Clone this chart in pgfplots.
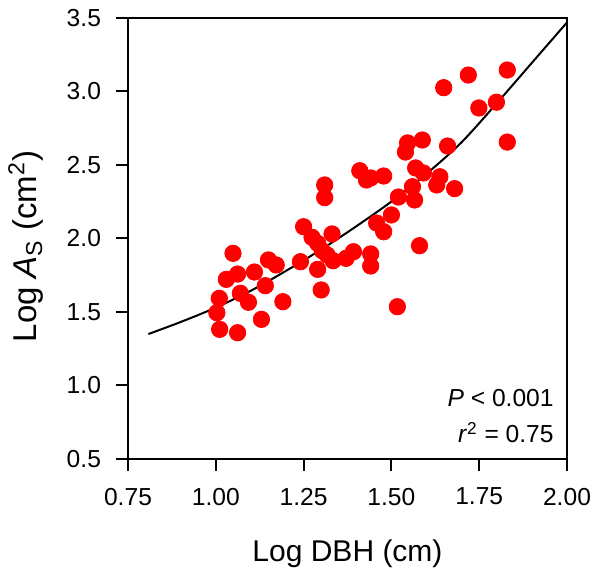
\documentclass[border=0pt]{standalone}
\usepackage{fontspec}
\setmainfont{Liberation Sans}
\usepackage{pgfplots}
\pgfplotsset{compat=1.18}
\usetikzlibrary{calc}

\pgfplotstableread{
x y
1.003 1.495
1.010 1.593
1.011 1.382
1.030 1.722
1.049 1.899
1.062 1.758
1.062 1.359
1.070 1.627
1.093 1.566
1.110 1.772
1.130 1.450
1.141 1.679
1.150 1.854
1.172 1.820
1.191 1.570
1.241 1.842
1.250 2.080
1.274 2.008
1.290 1.967
1.290 1.790
1.300 1.650
1.303 1.917
1.310 2.364
1.310 2.278
1.317 1.888
1.331 2.031
1.334 1.849
1.371 1.865
1.392 1.910
1.410 2.461
1.429 2.398
1.441 2.412
1.441 1.895
1.441 1.813
1.458 2.105
1.478 2.425
1.478 2.046
1.500 2.160
1.517 1.536
1.520 2.282
1.540 2.588
1.546 2.650
1.560 2.352
1.566 2.262
1.569 2.480
1.580 1.951
1.588 2.670
1.591 2.446
1.629 2.364
1.638 2.420
1.649 3.026
1.660 2.629
1.680 2.339
1.719 3.112
1.749 2.888
1.799 2.927
1.830 3.146
1.830 2.656
}\trees

% fitted line
\pgfplotstableread{
x y
0.808 1.350
0.90 1.432
1.00 1.530
1.10 1.645
1.20 1.780
1.30 1.925
1.40 2.083
1.50 2.251
1.60 2.440
1.70 2.655
1.80 2.920
1.90 3.195
2.00 3.470
}\fit

\begin{document}
\begin{tikzpicture}
\begin{axis}[
    scale only axis,
    width=219.5pt, height=220.5pt,
    xmin=0.75, xmax=2, ymin=0.5, ymax=3.5,
    xtick={0.75,1,1.25,1.5,1.75,2},
    ytick={0.5,1,1.5,2,2.5,3,3.5},
    xticklabel style={/pgf/number format/.cd,fixed,fixed zerofill,precision=2},
    yticklabel style={/pgf/number format/.cd,fixed,fixed zerofill,precision=1},
    /pgf/number format/assume math mode=true,
    tick label style={font=\fontsize{12.3}{14}\selectfont},
    xticklabel shift=5pt, yticklabel shift=4pt,
    axis line style={line width=1.2pt},
    tick style={line width=1pt, black},
    tick align=outside, major tick length=6pt,
    xtick pos=left, ytick pos=left,
    xlabel={Log DBH (cm)},
    ylabel={Log \textit{A}\textsubscript{S} (cm\textsuperscript{2})},
    every axis x label/.style={at={(axis description cs:0.5,0)}, anchor=base, yshift=-51.5pt, font=\fontsize{15}{18}\selectfont},
    every axis y label/.style={at={(axis description cs:0,0.5)}, xshift=-45.5pt, yshift=-4pt, rotate=90, anchor=base, font=\fontsize{16.5}{19}\selectfont},
    clip=false,
]
\addplot[black, line width=1pt, smooth] table[x=x, y=y] {\fit};
\addplot[only marks, mark=*, mark size=4.1pt, color=red, fill=red] table[x=x, y=y] {\trees};
\node[anchor=base east, font=\fontsize{12.3}{14}\selectfont] at (axis cs:1.982,0.856) {\textit{P} < 0.001};
\node[anchor=base east, font=\fontsize{12.3}{14}\selectfont] at (axis cs:1.982,0.609) {\textit{r}\textsuperscript{2} = 0.75};
\end{axis}
\pgfresetboundingbox
\path ($(current axis.south west)+(-64pt,-57.5pt)$) rectangle ($(current axis.north east)+(13pt,9pt)$);
\end{tikzpicture}
\end{document}
